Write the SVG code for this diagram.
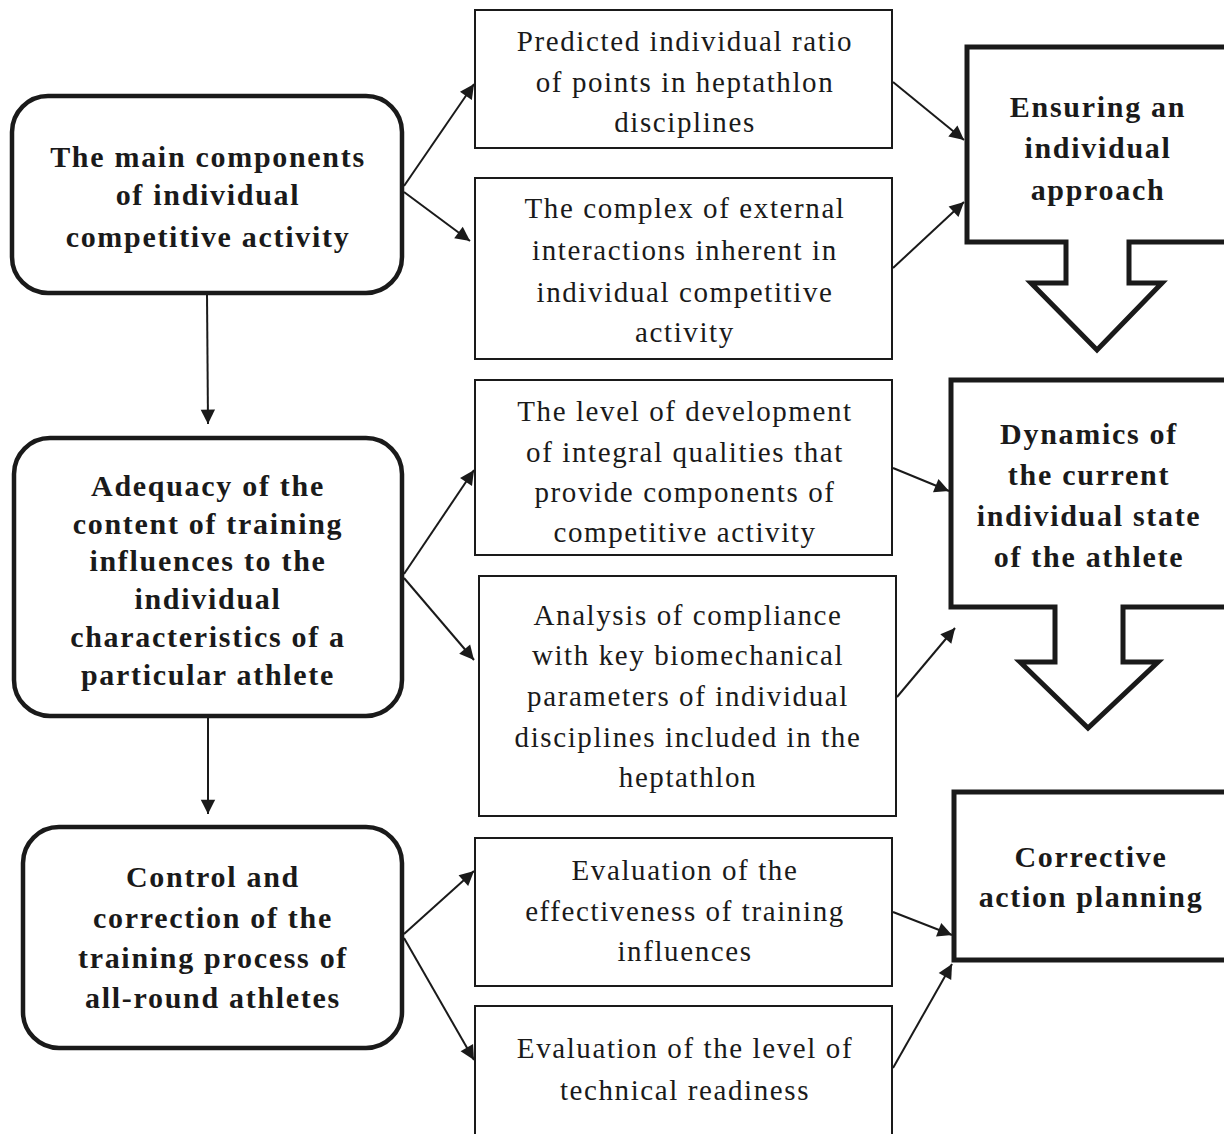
<svg xmlns="http://www.w3.org/2000/svg" width="1224" height="1134" viewBox="0 0 1224 1134">
<style>
.lb{fill:#fff;stroke:#1a1a1a;stroke-width:4.5}
.mb{fill:#fff;stroke:#1a1a1a;stroke-width:2}
.rb{fill:#fff;stroke:#1a1a1a;stroke-width:5}
.bt{font-family:"Liberation Serif",serif;font-weight:bold;font-size:30px;letter-spacing:1.7px;fill:#1a1a1a;text-anchor:middle}
.rt{font-family:"Liberation Serif",serif;font-size:29px;letter-spacing:1.6px;fill:#1a1a1a;text-anchor:middle}
.c{stroke:#1a1a1a;stroke-width:2;fill:none;marker-end:url(#ah)}
</style>
<defs>
<marker id="ah" viewBox="0 0 10 10" refX="10" refY="5" markerWidth="8" markerHeight="8" orient="auto" markerUnits="userSpaceOnUse" style="overflow:visible">
<path d="M0,0 L10,5 L0,10 z" fill="#1a1a1a" transform="scale(1.8) translate(-4.4,-2.2)"/>
</marker>
</defs>
<rect width="1224" height="1134" fill="#fff"/>
<g id="connectors">
<path class="c" d="M404,186 L474,84"/>
<path class="c" d="M404,192 L470,241"/>
<path class="c" d="M207,294 L208,424"/>
<path class="c" d="M404,574 L474,470"/>
<path class="c" d="M404,578 L474,660"/>
<path class="c" d="M208,717 L208,814"/>
<path class="c" d="M404,934 L474,871"/>
<path class="c" d="M404,938 L474,1060"/>
<path class="c" d="M893,82 L964,140"/>
<path class="c" d="M893,268 L964,202"/>
<path class="c" d="M893,468 L949,491"/>
<path class="c" d="M897,697 L955,628"/>
<path class="c" d="M893,912 L952,935"/>
<path class="c" d="M893,1068 L952,964"/>
</g>
<g id="n1">
<rect class="lb" x="12" y="96" width="390" height="197" rx="36"/>
<text class="bt" x="208" y="167">The main components</text>
<text class="bt" x="208" y="205">of individual</text>
<text class="bt" x="208" y="247">competitive activity</text>
</g>
<g id="n2">
<rect class="lb" x="14" y="438" width="388" height="278" rx="36"/>
<text class="bt" x="208" y="496">Adequacy of the</text>
<text class="bt" x="208" y="534">content of training</text>
<text class="bt" x="208" y="571">influences to the</text>
<text class="bt" x="208" y="609">individual</text>
<text class="bt" x="208" y="647">characteristics of a</text>
<text class="bt" x="208" y="685">particular athlete</text>
</g>
<g id="n3">
<rect class="lb" x="23" y="827" width="379" height="221" rx="36"/>
<text class="bt" x="213" y="887">Control and</text>
<text class="bt" x="213" y="928">correction of the</text>
<text class="bt" x="213" y="968">training process of</text>
<text class="bt" x="213" y="1008">all-round athletes</text>
</g>
<g id="m1">
<rect class="mb" x="475" y="10" width="417" height="138"/>
<text class="rt" x="685" y="51">Predicted individual ratio</text>
<text class="rt" x="685" y="92">of points in heptathlon</text>
<text class="rt" x="685" y="132">disciplines</text>
</g>
<g id="m2">
<rect class="mb" x="475" y="178" width="417" height="181"/>
<text class="rt" x="685" y="218">The complex of external</text>
<text class="rt" x="685" y="260">interactions inherent in</text>
<text class="rt" x="685" y="302">individual competitive</text>
<text class="rt" x="685" y="342">activity</text>
</g>
<g id="m3">
<rect class="mb" x="475" y="380" width="417" height="175"/>
<text class="rt" x="685" y="421">The level of development</text>
<text class="rt" x="685" y="462">of integral qualities that</text>
<text class="rt" x="685" y="502">provide components of</text>
<text class="rt" x="685" y="542">competitive activity</text>
</g>
<g id="m4">
<rect class="mb" x="479" y="576" width="417" height="240"/>
<text class="rt" x="688" y="625">Analysis of compliance</text>
<text class="rt" x="688" y="665">with key biomechanical</text>
<text class="rt" x="688" y="706">parameters of individual</text>
<text class="rt" x="688" y="747">disciplines included in the</text>
<text class="rt" x="688" y="787">heptathlon</text>
</g>
<g id="m5">
<rect class="mb" x="475" y="838" width="417" height="148"/>
<text class="rt" x="685" y="880">Evaluation of the</text>
<text class="rt" x="685" y="921">effectiveness of training</text>
<text class="rt" x="685" y="961">influences</text>
</g>
<g id="m6">
<rect class="mb" x="475" y="1006" width="417" height="140"/>
<text class="rt" x="685" y="1058">Evaluation of the level of</text>
<text class="rt" x="685" y="1100">technical readiness</text>
</g>
<g id="r1">
<path class="rb" d="M967,47 L1230,47 L1230,242 L1129,242 L1129,283 L1162,283 L1097,350 L1031,283 L1066,283 L1066,242 L967,242 Z"/>
<text class="bt" x="1098" y="117">Ensuring an</text>
<text class="bt" x="1098" y="158">individual</text>
<text class="bt" x="1098" y="200">approach</text>
</g>
<g id="r2">
<path class="rb" d="M951,380 L1230,380 L1230,607 L1123,607 L1123,662 L1158,662 L1088,728 L1020,662 L1055,662 L1055,607 L951,607 Z"/>
<text class="bt" x="1089" y="444">Dynamics of</text>
<text class="bt" x="1089" y="485">the current</text>
<text class="bt" x="1089" y="526">individual state</text>
<text class="bt" x="1089" y="567">of the athlete</text>
</g>
<g id="r3">
<rect class="rb" x="954" y="792" width="276" height="168"/>
<text class="bt" x="1091" y="867">Corrective</text>
<text class="bt" x="1091" y="907">action planning</text>
</g>
</svg>
